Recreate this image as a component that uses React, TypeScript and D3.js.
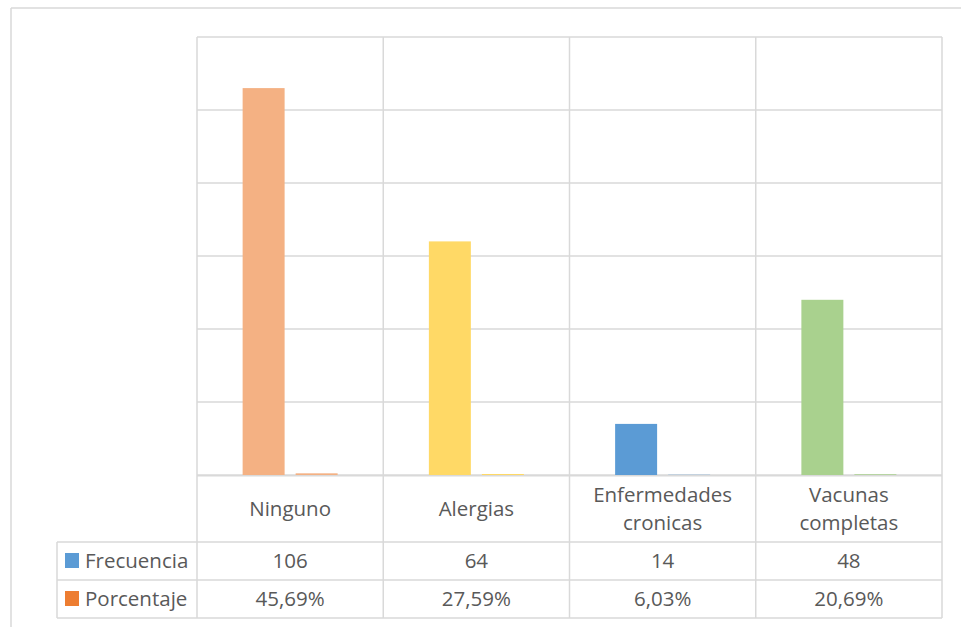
import React from "react";
import * as d3 from "d3";

// Categories and series values
const categories = ["Ninguno", "Alergias", "Enfermedades cronicas", "Vacunas completas"];
const categoryLines = [["Ninguno"], ["Alergias"], ["Enfermedades", "cronicas"], ["Vacunas", "completas"]];
const frecuencia = [106, 64, 14, 48];
const porcentaje = [0.4569, 0.2759, 0.0603, 0.2069];
const porcentajeLabels = ["45,69%", "27,59%", "6,03%", "20,69%"];
const seriesNames = ["Frecuencia", "Porcentaje"];
const seriesColors = ["#5b9bd5", "#ed7d31"];
const pointColors = ["#f4b183", "#ffd966", "#5b9bd5", "#a9d18e"];
const yTicks = [0, 20, 40, 60, 80, 100, 120];

const W = 961;
const H = 627;
const plot = { left: 197, right: 942, top: 37, bottom: 475 };
const tableLeft = 57;
const rowCat = 542;
const rowFreq = 580;
const rowPct = 618;
const grid = "#d9d9d9";
const textColor = "#595959";
const font = "'Open Sans', sans-serif";
const fs = 20.5;

export default function App() {
  const x = d3.scaleBand<string>().domain(categories).range([plot.left, plot.right]).padding(0);
  const bw = x.bandwidth();
  const x1 = d3
    .scaleBand<string>()
    .domain(seriesNames)
    .range([bw / 2 - 47.5, bw / 2 + 47.5])
    .paddingInner(0.208)
    .paddingOuter(0);
  const y = d3.scaleLinear().domain([0, 120]).range([plot.bottom, plot.top]);

  const seriesValues = [frecuencia, porcentaje];

  return (
    <svg
      width={W}
      height={H}
      style={{ position: "absolute", left: 0, top: 0, background: "#fff" }}
      fontFamily={font}
    >
      {/* chart frame */}
      <line x1={11} y1={8} x2={W} y2={8} stroke={grid} strokeWidth={1.5} />
      <line x1={11} y1={8} x2={11} y2={H} stroke={grid} strokeWidth={1.5} />

      {/* horizontal gridlines */}
      {yTicks.map((t) => (
        <line key={t} x1={plot.left} x2={plot.right} y1={y(t)} y2={y(t)} stroke={grid} strokeWidth={1.5} />
      ))}

      {/* bars */}
      {seriesValues.map((vals, si) =>
        vals.map((v, ci) => {
          const x0 = (x(categories[ci]) as number) + (x1(seriesNames[si]) as number);
          return (
            <rect
              key={`${si}-${ci}`}
              x={x0}
              y={y(v)}
              width={x1.bandwidth()}
              height={plot.bottom - y(v)}
              fill={pointColors[ci]}
            />
          );
        })
      )}

      {/* baseline drawn over bars */}
      <line x1={plot.left} x2={plot.right} y1={y(0) + 0.75} y2={y(0) + 0.75} stroke={grid} strokeWidth={1.5} />

      {/* vertical category dividers through plot and data table */}
      {categories.map((c) => (
        <line key={c} x1={x(c)} x2={x(c)} y1={plot.top} y2={rowPct} stroke={grid} strokeWidth={1.5} />
      ))}
      <line x1={plot.right} x2={plot.right} y1={plot.top} y2={rowPct} stroke={grid} strokeWidth={1.5} />

      {/* data table rows */}
      {[rowCat, rowFreq, rowPct].map((ry) => (
        <line key={ry} x1={tableLeft} x2={plot.right} y1={ry} y2={ry} stroke={grid} strokeWidth={1.5} />
      ))}
      <line x1={tableLeft} x2={tableLeft} y1={rowCat} y2={rowPct} stroke={grid} strokeWidth={1.5} />

      {/* category labels */}
      {categoryLines.map((lines, ci) => {
        const cx = (x(categories[ci]) as number) + bw / 2;
        const baselines = lines.length === 1 ? [516] : [502, 530];
        return lines.map((ln, li) => (
          <text key={`${ci}-${li}`} x={cx} y={baselines[li]} textAnchor="middle" fontSize={fs} fill={textColor}>
            {ln}
          </text>
        ));
      })}

      {/* table values */}
      {frecuencia.map((v, ci) => (
        <text
          key={`f${ci}`}
          x={(x(categories[ci]) as number) + bw / 2}
          y={568}
          textAnchor="middle"
          fontSize={fs}
          fill={textColor}
        >
          {v}
        </text>
      ))}
      {porcentajeLabels.map((v, ci) => (
        <text
          key={`p${ci}`}
          x={(x(categories[ci]) as number) + bw / 2}
          y={606}
          textAnchor="middle"
          fontSize={fs}
          fill={textColor}
        >
          {v}
        </text>
      ))}

      {/* legend keys in table */}
      {seriesNames.map((s, si) => {
        const ry = si === 0 ? rowCat : rowFreq;
        return (
          <g key={s}>
            <rect x={65} y={ry + 11} width={14} height={15} fill={seriesColors[si]} />
            <text x={85} y={ry + 26} fontSize={fs} fill={textColor}>
              {s}
            </text>
          </g>
        );
      })}
    </svg>
  );
}
